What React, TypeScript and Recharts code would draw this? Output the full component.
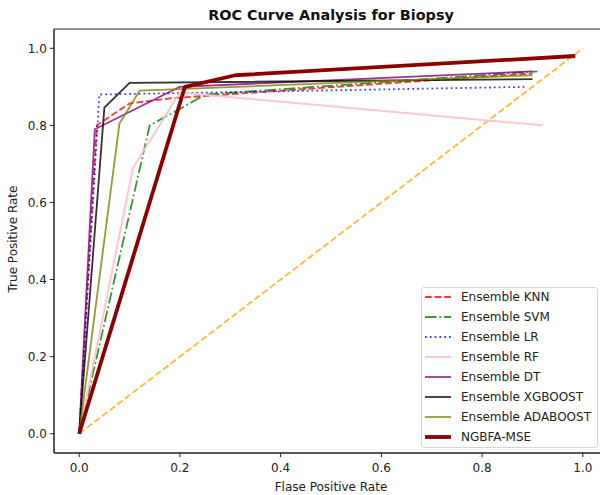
import React from "react";
import { LineChart, Line, XAxis, YAxis, ReferenceArea, Legend } from "recharts";

const xTicks = [0, 0.2, 0.4, 0.6, 0.8, 1.0];
const yTicks = [0, 0.2, 0.4, 0.6, 0.8, 1.0];

const knnFpr = [0, 0.035, 0.1, 0.18, 0.9];
const knnTpr = [0, 0.8, 0.857, 0.87, 0.935];
const svmFpr = [0, 0.14, 0.21, 0.25, 0.91];
const svmTpr = [0, 0.8, 0.85, 0.88, 0.94];
const lrFpr = [0, 0.04, 0.89];
const lrTpr = [0, 0.88, 0.9];
const rfFpr = [0, 0.107, 0.2, 0.92];
const rfTpr = [0, 0.69, 0.885, 0.8];
const dtFpr = [0, 0.031, 0.2, 0.9];
const dtTpr = [0, 0.79, 0.9, 0.94];
const xgbFpr = [0, 0.05, 0.1, 0.9];
const xgbTpr = [0, 0.846, 0.91, 0.92];
const adaFpr = [0, 0.08, 0.12, 0.9];
const adaTpr = [0, 0.805, 0.89, 0.93];
const ngbFpr = [0, 0.21, 0.31, 0.985];
const ngbTpr = [0, 0.9, 0.93, 0.98];
const diagFpr = [0, 1];
const diagTpr = [0, 1];

const seriesNames = [
  "Ensemble KNN",
  "Ensemble SVM",
  "Ensemble LR",
  "Ensemble RF",
  "Ensemble DT",
  "Ensemble XGBOOST",
  "Ensemble ADABOOST",
  "NGBFA-MSE",
];

const zip = (xs: number[], ys: number[]) => xs.map((x, i) => ({ x, y: ys[i] }));

type S = {
  name: string;
  data: { x: number; y: number }[];
  color: string;
  width: number;
  dash?: string;
  opacity: number;
};

const series: S[] = [
  { name: seriesNames[0], data: zip(knnFpr, knnTpr), color: "#ff0000", width: 1.8, dash: "6.7 2.9", opacity: 0.8 },
  { name: seriesNames[1], data: zip(svmFpr, svmTpr), color: "#008000", width: 1.8, dash: "11.5 2.9 1.8 2.9", opacity: 0.8 },
  { name: seriesNames[2], data: zip(lrFpr, lrTpr), color: "#0000ff", width: 1.8, dash: "1.8 3", opacity: 0.75 },
  { name: seriesNames[3], data: zip(rfFpr, rfTpr), color: "#ffc0cb", width: 2, opacity: 0.9 },
  { name: seriesNames[4], data: zip(dtFpr, dtTpr), color: "#800080", width: 1.8, opacity: 0.8 },
  { name: seriesNames[5], data: zip(xgbFpr, xgbTpr), color: "#000000", width: 1.8, opacity: 0.8 },
  { name: seriesNames[6], data: zip(adaFpr, adaTpr), color: "#808000", width: 1.8, opacity: 0.8 },
  { name: seriesNames[7], data: zip(ngbFpr, ngbTpr), color: "#8b0000", width: 3.8, opacity: 1 },
];

const diag = zip(diagFpr, diagTpr);

const FONT = "'DejaVu Sans', sans-serif";
const fmt = (v: number) => v.toFixed(1);

const LegendBox = () => (
  <div
    style={{
      width: 177,
      height: 161,
      boxSizing: "border-box",
      border: "1px solid #d6d6d6",
      borderRadius: 3,
      background: "rgba(255,255,255,0.85)",
    }}
  >
    <svg width={175} height={159} style={{ display: "block" }}>
      {series.map((s, i) => {
        const cy = 9 + 20 * i;
        return (
          <g key={s.name}>
            <line
              x1={3}
              x2={29}
              y1={cy}
              y2={cy}
              stroke={s.color}
              strokeOpacity={s.opacity}
              strokeWidth={s.width}
              strokeDasharray={s.dash}
            />
            <text x={39} y={cy} dominantBaseline="central" fontFamily={FONT} fontSize={12} fill="#222">
              {s.name}
            </text>
          </g>
        );
      })}
    </svg>
  </div>
);

export default function App() {
  return (
    <div
      style={{
        position: "fixed",
        left: 0,
        top: 0,
        width: 600,
        height: 495,
        overflow: "hidden",
        background: "#fff",
      }}
    >
      <div
        style={{
          position: "absolute",
          left: 0,
          top: 6,
          width: 662,
          textAlign: "center",
          fontFamily: FONT,
          fontWeight: "bold",
          fontSize: 14.4,
          lineHeight: "18px",
          color: "#111",
        }}
      >
        ROC Curve Analysis for Biopsy
      </div>
      <LineChart width={612} height={495} margin={{ top: 29, right: 4, left: 0, bottom: 0 }}>
        <XAxis
          type="number"
          dataKey="x"
          domain={[-0.05, 1.05]}
          allowDataOverflow
          ticks={xTicks}
          tickFormatter={fmt}
          height={42}
          tickSize={4.2}
          tickMargin={6}
          stroke="#222"
          tick={{ fill: "#222", fontSize: 12, fontFamily: FONT }}
          label={{
            value: "Flase Positive Rate",
            position: "insideBottom",
            offset: 4,
            fill: "#222",
            fontSize: 12,
            fontFamily: FONT,
          }}
        />
        <YAxis
          type="number"
          dataKey="y"
          domain={[-0.05, 1.05]}
          allowDataOverflow
          ticks={yTicks}
          tickFormatter={fmt}
          width={54}
          tickSize={4.2}
          tickMargin={3}
          stroke="#222"
          tick={{ fill: "#222", fontSize: 12, fontFamily: FONT }}
          label={{
            content: () => (
              <text
                x={13}
                y={239}
                transform="rotate(-90, 13, 239)"
                textAnchor="middle"
                dominantBaseline="central"
                fontFamily={FONT}
                fontSize={12}
                fill="#222"
              >
                True Positive Rate
              </text>
            ),
          }}
        />
        <Line
          data={diag}
          dataKey="y"
          stroke="#ffa500"
          strokeOpacity={0.8}
          strokeWidth={1.8}
          strokeDasharray="6.7 2.9"
          dot={false}
          activeDot={false}
          isAnimationActive={false}
          legendType="none"
        />
        {series.map((s) => (
          <Line
            key={s.name}
            name={s.name}
            data={s.data}
            dataKey="y"
            type="linear"
            stroke={s.color}
            strokeOpacity={s.opacity}
            strokeWidth={s.width}
            strokeDasharray={s.dash}
            strokeLinejoin="round"
            dot={false}
            activeDot={false}
            isAnimationActive={false}
          />
        ))}
        <ReferenceArea
          x1={-0.05}
          x2={1.05}
          y1={-0.05}
          y2={1.05}
          fill="none"
          fillOpacity={0}
          stroke="#222"
          strokeWidth={1}
          ifOverflow="visible"
        />
        <Legend
          layout="horizontal"
          verticalAlign="middle"
          align="center"
          content={() => <LegendBox />}
          wrapperStyle={{ position: "absolute", left: 421, top: 287, width: 177, height: 161 }}
        />
      </LineChart>
    </div>
  );
}
